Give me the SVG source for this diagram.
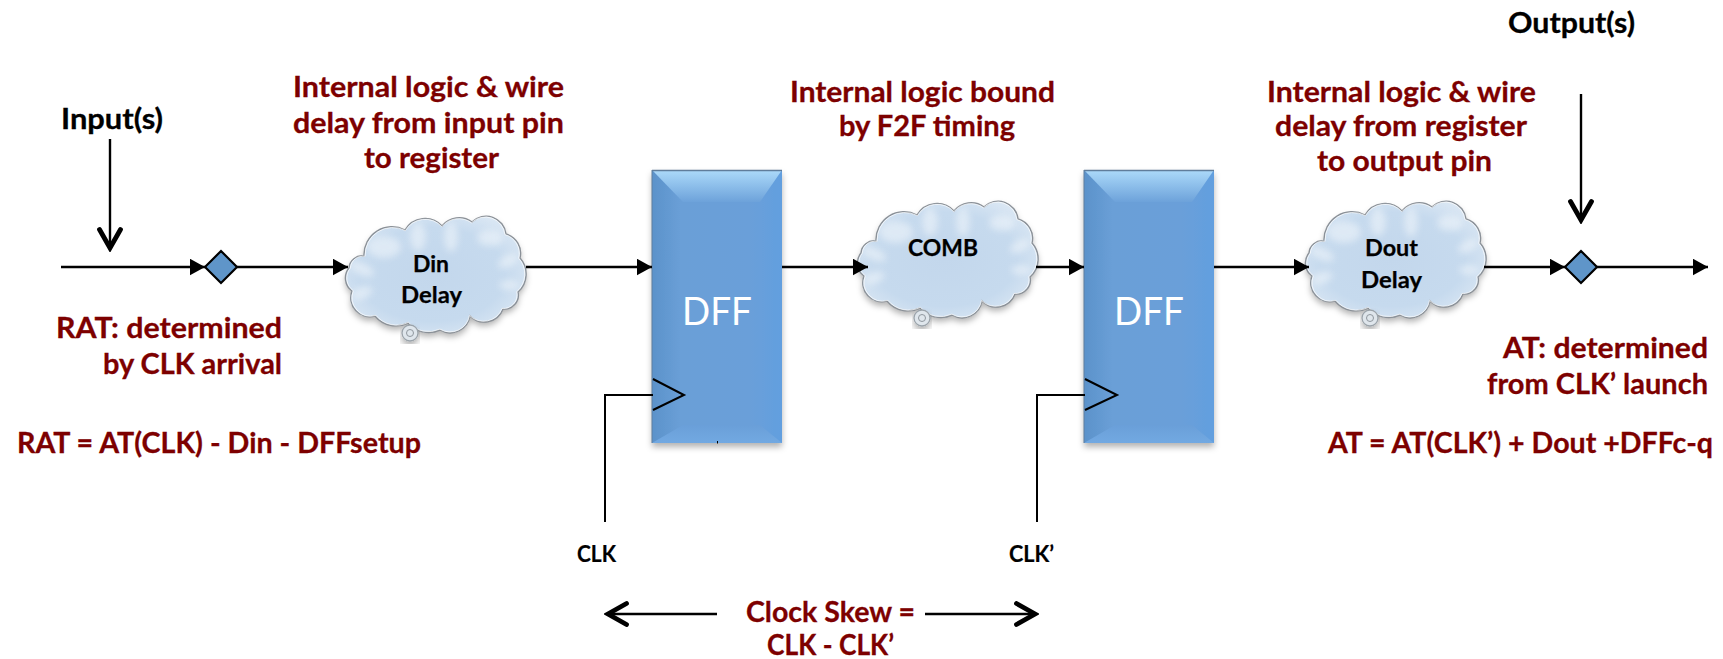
<svg xmlns="http://www.w3.org/2000/svg" width="1723" height="659" viewBox="0 0 1723 659">
<style>
text{font-family:"Lato","Carlito","Liberation Sans",sans-serif;font-weight:700}
.r{fill:#7d0000;stroke:#7d0000;stroke-width:.3;font-size:29px}
.k{fill:#000;stroke:#000;stroke-width:.3;font-size:29px}
.c{fill:#000;stroke:#000;stroke-width:.25;font-size:23px}
.s{fill:#000;stroke:#000;stroke-width:.2;font-size:22px}
.d{fill:#fff;font-size:39px;font-weight:400}
.w{fill:none;stroke:#000;stroke-width:2.4}
.a{marker-end:url(#tri)}
.o{marker-end:url(#chev);stroke-width:2.4}
.ck{fill:none;stroke:#000;stroke-width:2}
.dia{fill:#5f95c9;stroke:#000;stroke-width:2.2}
</style>
<defs>
<marker id="tri" markerUnits="userSpaceOnUse" markerWidth="16" markerHeight="18" refX="15.5" refY="8.5" orient="auto"><path d="M0,0L15.5,8.5L0,17z" fill="#000"/></marker>
<marker id="chev" markerUnits="userSpaceOnUse" markerWidth="26" markerHeight="30" refX="23" refY="13" orient="auto"><path d="M3.5,2.5L22,13L3.5,23.5" fill="none" stroke="#000" stroke-width="4.8" stroke-linecap="round" stroke-linejoin="miter"/></marker>
<linearGradient id="body" x1="0" x2="1" y1="0" y2="0"><stop offset="0" stop-color="#5b92ca"/><stop offset=".22" stop-color="#6a9fd7"/><stop offset=".75" stop-color="#6a9fd9"/><stop offset="1" stop-color="#629fdf"/></linearGradient>
<linearGradient id="bev" x1="0" x2="0" y1="0" y2="1"><stop offset="0" stop-color="#acdafa"/><stop offset="1" stop-color="#6da2da"/></linearGradient>
<linearGradient id="bevb" x1="0" x2="0" y1="0" y2="1"><stop offset="0" stop-color="#6a9fd9"/><stop offset="1" stop-color="#72a9e2"/></linearGradient>
<radialGradient id="cl" cx=".48" cy=".5" r=".62"><stop offset="0" stop-color="#c3d7ec"/><stop offset=".65" stop-color="#c6daee"/><stop offset="1" stop-color="#dfeaf5"/></radialGradient>
<filter id="sh" x="-10%" y="-10%" width="120%" height="125%"><feDropShadow dx="0" dy="4" stdDeviation="3" flood-color="#000" flood-opacity=".3"/></filter>
<filter id="bl" x="-40%" y="-40%" width="180%" height="180%"><feGaussianBlur stdDeviation="3.5"/></filter>
<path id="cp" d="M1,51A13,13 0 0 1 16,39A28,28 0 0 1 57,13A23,23 0 0 1 94,9A22,22 0 0 1 124,5A20,20 0 0 1 158,17A20,20 0 0 1 172,41A24,24 0 0 1 170,75A14,14 0 0 1 155,92A20,20 0 0 1 122,99A20,20 0 0 1 92,113A27,27 0 0 1 60,106A27,27 0 0 1 27,99A19,19 0 0 1 4,74A16,16 0 0 1 1,51z"/>
<clipPath id="cc"><use href="#cp"/></clipPath>
<g id="cloud">
<use href="#cp" fill="url(#cl)" filter="url(#sh)"/>
<g clip-path="url(#cc)"><g filter="url(#bl)" fill="#eef4fa" opacity=".6">
<ellipse cx="36" cy="30" rx="17" ry="11"/><ellipse cx="14" cy="52" rx="13" ry="6" transform="rotate(25 14 52)"/><ellipse cx="14" cy="76" rx="11" ry="6" transform="rotate(-20 14 76)"/>
<ellipse cx="70" cy="20" rx="8" ry="14"/><ellipse cx="103" cy="20" rx="7" ry="15"/><ellipse cx="142" cy="21" rx="13" ry="8"/><ellipse cx="160" cy="44" rx="11" ry="6" transform="rotate(-30 160 44)"/><ellipse cx="161" cy="68" rx="10" ry="5"/>
</g></g>
<use href="#cp" fill="none" stroke="#8b9198" stroke-width="1.4"/>
<use href="#cp" fill="none" stroke="#fff" stroke-width="1" opacity=".7" transform="translate(89 57) scale(.985) translate(-89 -57)"/>
<circle cx="62" cy="116" r="8" fill="#dfe6ec" stroke="#9ba3aa" stroke-width="1.3" filter="url(#sh)"/>
<circle cx="62" cy="116" r="3.5" fill="none" stroke="#8f979e" stroke-width="1"/>
</g>
<g id="ff">
<rect x="0" y="0" width="130" height="273" fill="url(#body)" filter="url(#sh)"/>
<path d="M0,0H130L108,32H31z" fill="url(#bev)"/>
<path d="M0,273H130L108,255H31z" fill="url(#bevb)"/>
<path d="M0,.5H130" stroke="#607d9b" stroke-width="1.5"/>
<path d="M0,0V273" stroke="#5f7f9f" stroke-width="1"/>
</g>
</defs>
<rect width="1723" height="659" fill="#fff"/>

<g id="node-din"><use href="#cloud" x="348" y="217"/><text class="c" x="413" y="272" textLength="36" lengthAdjust="spacingAndGlyphs">Din</text><text class="c" x="401" y="303" textLength="61" lengthAdjust="spacingAndGlyphs">Delay</text></g>
<g id="node-comb"><use href="#cloud" x="860" y="202"/><text class="c" x="908" y="256" textLength="70" lengthAdjust="spacingAndGlyphs">COMB</text></g>
<g id="node-dout"><use href="#cloud" x="1308" y="202"/><text class="c" x="1365" y="256" textLength="53" lengthAdjust="spacingAndGlyphs">Dout</text><text class="c" x="1361" y="288" textLength="61" lengthAdjust="spacingAndGlyphs">Delay</text></g>
<g id="node-dff1"><use href="#ff" x="652" y="170"/><text class="d" x="682" y="325" textLength="70" lengthAdjust="spacingAndGlyphs">DFF</text><path class="ck" d="M653,379L684,395L653,410"/></g>
<g id="node-dff2"><use href="#ff" x="1084" y="170"/><text class="d" x="1114" y="325" textLength="70" lengthAdjust="spacingAndGlyphs">DFF</text><path class="ck" d="M1085,379L1117,395L1085,410"/></g>
<g id="node-pin-in"><path class="dia" d="M221,251L237,267L221,283L205,267z"/></g>
<g id="node-pin-out"><path class="dia" d="M1581,251L1597,267L1581,283L1565,267z"/></g>

<g id="connectors">
<path class="w a" d="M61,267H205"/>
<path class="w a" d="M237,267H348"/>
<path class="w a" d="M526,267H652"/>
<path class="w a" d="M782,267H868"/>
<path class="w a" d="M1036,267H1084"/>
<path class="w a" d="M1214,267H1309"/>
<path class="w a" d="M1484,267H1565"/>
<path class="w a" d="M1597,267H1708"/>
<path class="ck" d="M653,395H605V522"/>
<path class="ck" d="M1085,395H1037V522"/>
<path class="w o" d="M110,139V249"/>
<path class="w o" d="M1581,94V221"/>
<path class="w o" d="M717,614H607"/>
<path class="w o" d="M925,614H1036"/>
<path d="M717.5,441V443.5" stroke="#000" stroke-width="1"/>
</g>

<g id="labels">
<text class="k" x="61" y="129" textLength="102" lengthAdjust="spacingAndGlyphs">Input(s)</text>
<text class="k" x="1508" y="33" textLength="127" lengthAdjust="spacingAndGlyphs">Output(s)</text>
<text class="r" x="293" y="97" textLength="271" lengthAdjust="spacingAndGlyphs">Internal logic &amp; wire</text>
<text class="r" x="293" y="133" textLength="271" lengthAdjust="spacingAndGlyphs">delay from input pin</text>
<text class="r" x="364" y="168" textLength="135" lengthAdjust="spacingAndGlyphs">to register</text>
<text class="r" x="790" y="102" textLength="265" lengthAdjust="spacingAndGlyphs">Internal logic bound</text>
<text class="r" x="839" y="136" textLength="176" lengthAdjust="spacingAndGlyphs">by F2F timing</text>
<text class="r" x="1267" y="102" textLength="269" lengthAdjust="spacingAndGlyphs">Internal logic &amp; wire</text>
<text class="r" x="1275" y="136" textLength="252" lengthAdjust="spacingAndGlyphs">delay from register</text>
<text class="r" x="1317" y="171" textLength="175" lengthAdjust="spacingAndGlyphs">to output pin</text>
<text class="r" x="56" y="338" textLength="226" lengthAdjust="spacingAndGlyphs">RAT: determined</text>
<text class="r" x="103" y="374" textLength="179" lengthAdjust="spacingAndGlyphs">by CLK arrival</text>
<text class="r" x="17" y="453" textLength="404" lengthAdjust="spacingAndGlyphs">RAT = AT(CLK) - Din - DFFsetup</text>
<text class="r" x="1503" y="358" textLength="205" lengthAdjust="spacingAndGlyphs">AT: determined</text>
<text class="r" x="1487" y="394" textLength="221" lengthAdjust="spacingAndGlyphs">from CLK’ launch</text>
<text class="r" x="1328" y="453" textLength="385" lengthAdjust="spacingAndGlyphs">AT = AT(CLK’) + Dout +DFFc-q</text>
<text class="s" x="577" y="562" textLength="39" lengthAdjust="spacingAndGlyphs">CLK</text>
<text class="s" x="1009" y="562" textLength="45" lengthAdjust="spacingAndGlyphs">CLK’</text>
<text class="r" x="746" y="622" textLength="169" lengthAdjust="spacingAndGlyphs">Clock Skew =</text>
<text class="r" x="767" y="655" textLength="127" lengthAdjust="spacingAndGlyphs">CLK - CLK’</text>
</g>
</svg>
